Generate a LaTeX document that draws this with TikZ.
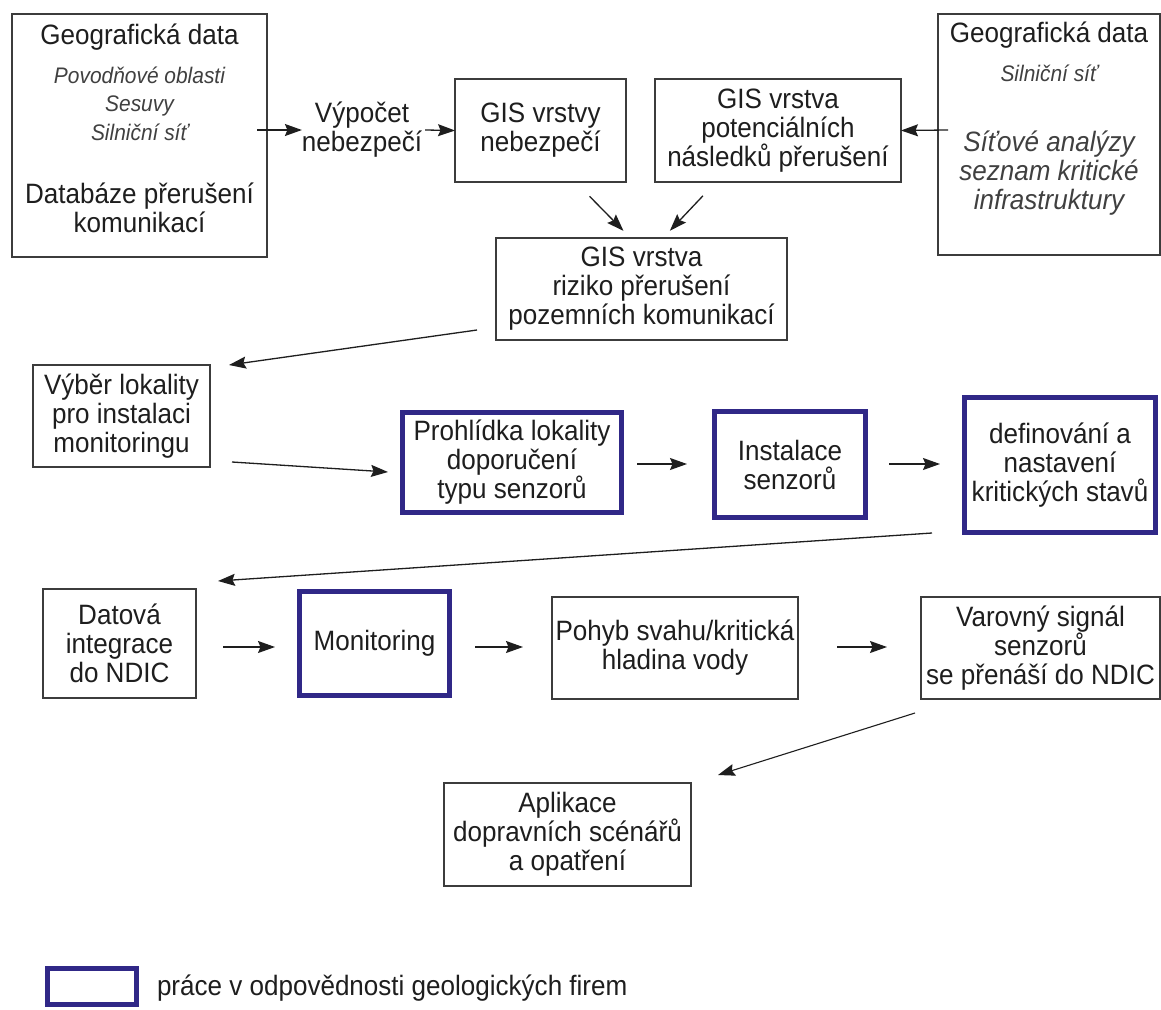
\documentclass[tikz,border=0pt]{standalone}
\usepackage{fontspec}
\setmainfont[FakeStretch=0.93]{Liberation Sans}
\usetikzlibrary{arrows.meta}

\definecolor{ink}{RGB}{30,30,30}
\definecolor{frame}{RGB}{60,60,60}
\definecolor{geoblue}{RGB}{48,40,135}

\tikzset{
  txt/.style={font=\fontsize{28}{29}\selectfont, align=center, inner sep=0pt, outer sep=0pt, text=ink},
  smallit/.style={font=\fontsize{22.5}{28.5}\selectfont\itshape, align=center, inner sep=0pt, text=ink!85},
  bigit/.style={font=\fontsize{28}{29}\selectfont\itshape, align=center, inner sep=0pt, text=ink!85},
  box/.style={txt, draw=frame, line width=1.3pt},
  geobox/.style={txt, draw=geoblue, line width=5pt},
  flow/.style={draw=ink, line width=1.3pt, -{Stealth[length=17pt,width=12pt,inset=2.5pt]}},
}

\begin{document}
\begin{tikzpicture}[x=1pt, y=-1pt]
  \fill[white] (0,0) rectangle (1161,1009);
  \useasboundingbox (0,0) rectangle (1161,1009);

  % --- input data and GIS layers ---
  \node[box, minimum width=255pt, minimum height=243pt] (geoA) at (139.5,135.5) {};
  \node[txt] (geoAtitle) at (139.5,37) {Geografická data};
  \node[smallit] (geoAlist) at (139.5,103.5) {Povodňové oblasti\\Sesuvy\\Silniční síť};
  \node[txt] (geoAdb) at (139.5,207.5) {Databáze přerušení\\komunikací};

  \node[txt] (vypocet) at (362,130) {Výpočet\\nebezpečí};

  \node[box, minimum width=171pt, minimum height=103pt] (gisNeb) at (540.5,130.5) {GIS vrstvy\\nebezpečí};
  \node[box, minimum width=246pt, minimum height=103pt] (potenc) at (778,130.5) {GIS vrstva\\potenciálních\\následků přerušení};

  \node[box, minimum width=222pt, minimum height=241pt] (geoB) at (1049,134.5) {};
  \node[txt] (geoBtitle) at (1049,35) {Geografická data};
  \node[smallit] (geoBroad) at (1049,73) {Silniční síť};
  \node[bigit] (geoBnet) at (1049,173.5) {Síťové analýzy\\seznam kritické\\infrastruktury};

  \node[box, minimum width=291pt, minimum height=102pt] (riziko) at (641.5,289) {GIS vrstva\\riziko přerušení\\pozemních komunikací};

  % --- site selection and sensor installation ---
  \node[box, minimum width=177pt, minimum height=102pt] (vyber) at (121.5,416) {Výběr lokality\\pro instalaci\\monitoringu};
  \node[geobox, minimum width=219pt, minimum height=100pt] (prohl) at (512,462.5) {Prohlídka lokality\\doporučení\\typu senzorů};
  \node[geobox, minimum width=151pt, minimum height=106pt] (inst) at (790,464.5) {Instalace\\senzorů};
  \node[geobox, minimum width=191pt, minimum height=135pt] (defin) at (1060,465) {definování a\\nastavení\\kritických stavů};

  % --- operation ---
  \node[box, minimum width=153pt, minimum height=109pt] (datova) at (119.5,643.5) {Datová\\integrace\\do NDIC};
  \node[geobox, minimum width=150pt, minimum height=104pt] (monit) at (374.5,643.5) {Monitoring};
  \node[box, minimum width=246pt, minimum height=102pt] (pohyb) at (675,648) {Pohyb svahu/kritická\\hladina vody};
  \node[box, minimum width=239pt, minimum height=102pt] (varov) at (1040.5,648) {Varovný signál\\senzorů\\se přenáší do NDIC};
  \node[box, minimum width=247pt, minimum height=103pt] (aplik) at (567.5,834.5) {Aplikace\\dopravních scénářů\\a opatření};

  % --- legend ---
  \node[geobox, minimum width=89pt, minimum height=36pt] (legbox) at (92,986.5) {};
  \node[txt, anchor=west] (legtxt) at (157,988) {práce v odpovědnosti geologických firem};

  % --- connectors ---
  \draw[flow] ([shift={(-10,-5.5)}]geoA.east) -- (vypocet.west);
  \draw[flow] ([shift={(3,0)}]vypocet.east) -- (gisNeb.west);
  \draw[flow] ([shift={(10,-4.5)}]geoB.west) -- (potenc.east);
  \draw[flow, shorten <=20pt, shorten >=10pt] ([shift={(35,0)}]gisNeb.south) -- ([shift={(-11,0)}]riziko.north);
  \draw[flow, shorten <=19pt, shorten >=10pt] ([shift={(-62,0)}]potenc.south) -- ([shift={(21.5,0)}]riziko.north);
  \draw[flow] ([shift={(-19,-10)}]riziko.south west) -- ([shift={(19,0)}]vyber.north east);
  \draw[flow] ([shift={(22,-5)}]vyber.south east) -- ([shift={(-14.5,9.5)}]prohl.west);
  \draw[flow] ([shift={(15.5,1.5)}]prohl.east) -- ([shift={(-27.5,-0.5)}]inst.west);
  \draw[flow] ([shift={(23.5,-0.5)}]inst.east) -- ([shift={(-24.5,-1)}]defin.west);
  \draw[flow] ([shift={(-32.5,0.5)}]defin.south west) -- ([shift={(22,-8)}]datova.north east);
  \draw[flow] ([shift={(27,3.5)}]datova.east) -- ([shift={(-24.5,3.5)}]monit.west);
  \draw[flow] ([shift={(25.5,3.5)}]monit.east) -- ([shift={(-29,-1)}]pohyb.west);
  \draw[flow] ([shift={(39,-1)}]pohyb.east) -- ([shift={(-34,-1)}]varov.west);
  \draw[flow, line width=1.1pt] ([shift={(-6,14)}]varov.south west) -- ([shift={(27,-8)}]aplik.north east);
\end{tikzpicture}
\end{document}
